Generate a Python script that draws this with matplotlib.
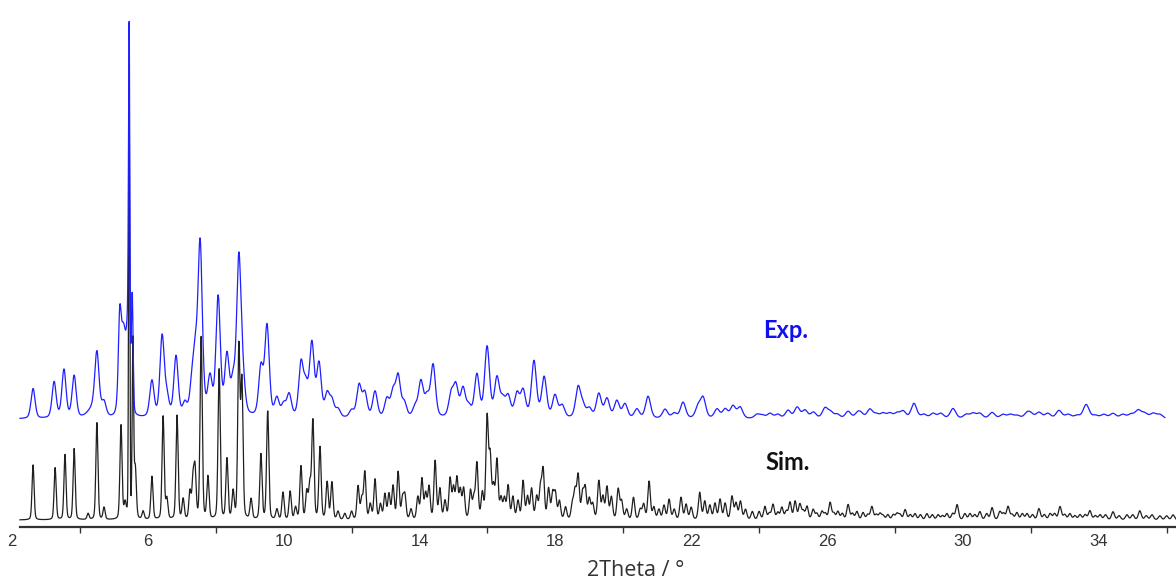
import numpy as np
import matplotlib
matplotlib.use("Agg")
import matplotlib.pyplot as plt

# ---------------- data ----------------
# Experimental pattern: peak positions (2theta, deg) and heights (arb. units)
exp_pos = [2.62, 3.24, 3.53, 3.83, 4.50, 4.71, 6.12, 6.42, 6.56, 6.83, 7.09, 7.30, 7.40,
           7.54, 7.83, 8.07, 8.33, 8.51, 8.68, 8.80, 9.33, 9.51, 9.80, 10.00, 10.16,
           10.51, 10.65, 10.83, 11.04, 11.28, 11.42, 11.60, 12.00, 12.22, 12.39, 12.69,
           13.04, 13.22, 13.37, 13.55, 13.87, 14.04, 14.22, 14.40, 14.93, 15.07, 15.28,
           15.45, 15.69, 15.99, 16.28, 16.45, 16.61, 16.87, 17.05, 17.37, 17.67, 17.99,
           18.20, 18.67, 18.81, 19.00, 19.28, 19.52, 19.81, 20.05, 20.40, 20.73, 21.23,
           21.50, 21.76, 22.20, 22.35, 22.76, 23.00, 23.23, 23.44, 23.94, 24.32, 24.85,
           25.12, 25.35, 25.94, 26.30, 26.62, 27.00, 27.26, 27.65, 28.06, 28.24, 28.56,
           29.12, 29.71, 30.50, 30.86, 31.18, 31.60, 31.89, 32.24, 32.83, 33.36, 33.63,
           34.42, 34.71, 35.16, 35.60]
exp_int = [30, 36, 48, 42, 58, 13, 36, 80, 18, 60, 12, 28, 50,
           170, 36, 118, 58, 30, 155, 30, 48, 90, 18, 12, 22,
           52, 28, 72, 52, 22, 16, 8, 7, 32, 24, 26,
           18, 24, 40, 14, 10, 35, 19, 52, 22, 30, 28,
           10, 42, 70, 38, 16, 20, 23, 26, 56, 40, 22,
           12, 30, 11, 9, 24, 19, 17, 14, 9, 22, 9,
           5, 16, 11, 20, 9, 9, 12, 11, 4, 5, 8,
           11, 8, 10, 4, 7, 4, 9, 5, 5, 7, 15,
           5, 10, 5, 6, 4, 3, 5, 6, 8, 3, 14,
           5, 4, 8, 5]
# weak experimental reflections at high angle
exp_pos_weak = [24.10, 24.55, 25.60, 26.10, 26.90, 27.45, 27.85, 28.85, 29.35, 30.10,
                30.30, 31.40, 32.00, 32.50, 33.10, 33.90, 34.15, 34.95, 35.35, 35.80]
exp_int_weak = [3, 4, 6, 6, 5, 4, 5, 4, 5, 4, 5, 4, 4, 5, 4, 3, 4, 4, 5, 4]
# a few experimental components with their own widths (main reflection region)
exp_pos_special = [4.42, 5.17, 5.28, 5.42, 5.45, 5.54]
exp_int_special = [10, 65, 90, 60, 330, 115]
exp_fwhm_special = [0.40, 0.09, 0.22, 0.10, 0.045, 0.06]

# Simulated pattern
sim_pos = [2.62, 3.27, 3.56, 3.83, 4.24, 4.50, 4.71, 5.21, 5.33, 5.63, 5.86, 6.12, 6.45,
           6.56, 6.86, 7.04, 7.24, 7.33, 7.39, 7.57, 7.77, 8.10, 8.33, 8.51, 8.68, 8.77,
           9.04, 9.33, 9.53, 9.80, 9.98, 10.19, 10.35, 10.51, 10.68, 10.77, 10.86, 11.07,
           11.28, 11.42, 11.60, 11.80, 12.00, 12.19, 12.30, 12.39, 12.55, 12.69, 12.85,
           12.98, 13.10, 13.22, 13.37, 13.50, 13.57, 13.75, 13.95, 14.07, 14.18, 14.28,
           14.46, 14.60, 14.75, 14.90, 15.00, 15.10, 15.20, 15.30, 15.50, 15.60, 15.69,
           15.85, 15.99, 16.08, 16.18, 16.28, 16.40, 16.50, 16.61, 16.75, 16.90, 17.05,
           17.18, 17.30, 17.45, 17.56, 17.64, 17.80, 17.92, 18.00, 18.12, 18.30, 18.50,
           18.58, 18.67, 18.80, 18.88, 19.00, 19.10, 19.28, 19.40, 19.52, 19.65, 19.85,
           19.95, 20.10, 20.30, 20.50, 20.60, 20.76, 20.90, 21.05, 21.20, 21.35, 21.50,
           21.70, 21.85, 22.00, 22.25, 22.40, 22.55, 22.70, 22.85, 23.00, 23.20, 23.32,
           23.45, 23.60, 23.80, 24.00, 24.17, 24.41, 24.67, 24.91, 25.06, 25.20, 25.41,
           25.59, 25.85, 26.09, 26.32, 26.62, 26.88, 27.06, 27.32, 27.56, 27.79, 28.06,
           28.30, 28.59, 28.94, 29.27, 29.53, 29.83, 30.06, 30.21, 30.50, 30.86, 31.09,
           31.33, 31.59, 31.89, 32.24, 32.57, 32.86, 33.15, 33.45, 33.74, 34.04, 34.42,
           34.83, 35.21, 35.57, 35.80, 36.19]
sim_int = [55, 52, 65, 71, 6, 97, 12, 94, 15, 50, 8, 43, 103,
           20, 104, 20, 27, 37, 47, 182, 42, 150, 60, 27, 170, 135,
           20, 65, 108, 10, 27, 28, 12, 53, 27, 33, 98, 72,
           37, 37, 8, 6, 8, 33, 20, 47, 15, 40, 15,
           25, 25, 33, 47, 20, 23, 10, 22, 40, 25, 32,
           58, 30, 18, 40, 30, 40, 28, 30, 28, 20, 55,
           25, 100, 60, 30, 58, 20, 20, 33, 22, 18, 38,
           22, 30, 22, 30, 48, 30, 25, 25, 18, 12, 15,
           27, 43, 25, 30, 20, 15, 38, 22, 32, 22, 30,
           18, 10, 22, 10, 15, 38, 12, 10, 14, 20, 10,
           22, 15, 12, 27, 18, 14, 16, 20, 16, 23, 16,
           18, 10, 8, 8, 13, 15, 12, 17, 18, 15, 13,
           10, 8, 17, 8, 15, 8, 7, 13, 6, 5, 6,
           10, 6, 6, 5, 6, 15, 6, 6, 8, 12, 8,
           13, 7, 6, 11, 6, 13, 6, 5, 9, 5, 8,
           5, 9, 5, 4, 5]
# weak simulated reflections at high angle
sim_pos_weak = [24.30, 24.55, 24.80, 25.30, 25.70, 25.95, 26.20, 26.45, 26.75, 27.20,
                27.45, 27.65, 27.95, 28.15, 28.45, 28.75, 29.10, 29.40, 29.70, 30.35,
                30.70, 31.20, 31.45, 31.75, 32.05, 32.40, 32.70, 33.00, 33.30, 33.60,
                33.90, 34.20, 34.60, 35.00, 35.40, 36.00]
sim_int_weak = [6, 7, 8, 8, 6, 6, 6, 6, 6, 5, 5, 4, 5, 5, 5, 5, 5, 4, 6, 5,
                6, 6, 5, 6, 5, 5, 6, 5, 4, 5, 4, 5, 4, 5, 4, 4]
sim_pos_special = [5.45, 5.56]
sim_int_special = [417, 175]
sim_fwhm_special = [0.04, 0.05]

exp_range = (2.236, 35.95)
sim_range = (2.236, 36.28)

tick_labels = ["2", "6", "10", "14", "18", "22", "26", "30", "34"]

# ---------------- styling / layout ----------------
EXP_FWHM, EXP_WIDEN = 0.14, 0.015
SIM_FWHM, SIM_WIDEN = 0.07, 0.015
EXP_OFFSET = 108
SIM_OFFSET = 7
PX_PER_DEG = 33.96


def profile(x, pos, amp, fwhm, eta):
    pos = np.asarray(pos, float)
    amp = np.asarray(amp, float)
    fwhm = np.asarray(fwhm, float) * np.ones(len(pos))
    d = (x[:, None] - pos[None, :]) / fwhm[None, :]
    g = np.exp(-4 * np.log(2) * d ** 2)
    l = 1.0 / (1.0 + 4 * d ** 2)
    return (((1 - eta) * g + eta * l) * amp[None, :]).sum(axis=1)


def widths(pos, base, widen):
    return base * (1 + widen * (np.asarray(pos, float) - 2))


ep = exp_pos + exp_pos_weak
ei = exp_int + exp_int_weak
sp = sim_pos + sim_pos_weak
si = sim_int + sim_int_weak

x_exp = np.arange(exp_range[0], exp_range[1], 0.005)
y_exp = (profile(x_exp, ep, ei, widths(ep, EXP_FWHM, EXP_WIDEN), 0.35)
         + profile(x_exp, exp_pos_special, exp_int_special, exp_fwhm_special, 0.2))
x_sim = np.arange(sim_range[0], sim_range[1], 0.005)
y_sim = (profile(x_sim, sp, si, widths(sp, SIM_FWHM, SIM_WIDEN), 0.25)
         + profile(x_sim, sim_pos_special, sim_int_special, sim_fwhm_special, 0.2))

W, H = 1176, 583
fig = plt.figure(figsize=(W / 100, H / 100), dpi=100)
ax_bottom_px = 527
ax = fig.add_axes([0, (H - ax_bottom_px) / H, 1, ax_bottom_px / H])
x_left = 2 - 12 / PX_PER_DEG
x_right = x_left + W / PX_PER_DEG
ax.set_xlim(x_left, x_right)
ax.set_ylim(0, ax_bottom_px)

ax.plot(x_sim, y_sim + SIM_OFFSET, color="#202020", lw=0.9)
ax.plot(x_exp, y_exp + EXP_OFFSET, color="#1f1fff", lw=0.9)

for s in ["top", "left", "right"]:
    ax.spines[s].set_visible(False)
ax.spines["bottom"].set_color("#333333")
ax.spines["bottom"].set_linewidth(1.6)
ax.spines["bottom"].set_bounds(2.236, x_right)
ax.set_yticks([])

major = [float(t) for t in tick_labels]
ax.set_xticks(major)
ax.set_xticklabels(tick_labels, fontsize=12, color="#333333", family="Liberation Sans")
ax.set_xticks(np.arange(4, 37, 4), minor=True)
ax.tick_params(axis="x", which="major", length=0, pad=5)
ax.tick_params(axis="x", which="minor", length=4, width=1.0, color="#333333")

fig.text(636 / W, 1 - 570 / H, "2Theta / °", ha="center", va="center",
         fontsize=15.5, color="#333333", family="Open Sans")
fig.text(763 / W, 1 - 338 / H, "Exp.", ha="left", va="baseline", fontsize=17,
         fontweight="bold", color="#1010ee", family="Lato")
fig.text(765 / W, 1 - 470 / H, "Sim.", ha="left", va="baseline", fontsize=17,
         fontweight="bold", color="#111111", family="Lato")

fig.savefig("out.png", dpi=100)
